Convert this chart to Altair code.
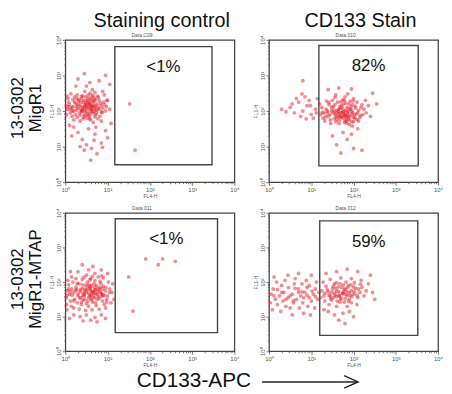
import json
import math
import altair as alt
import pandas as pd

# ---------------- data (log10 units) ----------------
col_titles = ["Staining control", "CD133 Stain"]
row_labels = [["13-0302", "MigR1"], ["13-0302", "MigR1-MTAP"]]
sample_ids = ["Data.C09", "Data.010", "Data.011", "Data.012"]
percents = ["<1%", "82%", "<1%", "59%"]
gate_x1 = [1.17, 1.18, 1.18, 1.20]
gate_x2 = [3.47, 3.53, 3.60, 3.52]
gate_y1 = [0.49, 0.46, 0.54, 0.46]
gate_y2 = [3.81, 3.84, 3.83, 3.77]
axis_title_x = "FL4-H"
axis_title_y = "FL1-H"
decades = [0, 1, 2, 3, 4]
decade_labels = ["10⁰", "10¹", "10²", "10³", "10⁴"]
bottom_label = ["CD133-APC"]

tl_points = [
    (0.55,2.10),(0.62,2.05),(0.48,2.18),(0.70,2.12),(0.40,2.02),(0.58,2.25),(0.66,1.95),(0.35,2.15),(0.75,2.20),(0.52,1.92),
    (0.44,2.30),(0.60,2.35),(0.80,2.05),(0.30,2.08),(0.68,2.28),(0.50,2.00),(0.57,1.85),(0.85,2.15),(0.25,2.20),(0.45,1.88),
    (0.72,1.90),(0.63,2.40),(0.38,2.35),(0.20,2.00),(0.90,2.25),(0.54,2.45),(0.78,2.38),(0.33,1.95),(0.47,2.12),(0.65,2.18),
    (0.15,2.10),(0.10,2.18),(0.05,2.05),(0.08,2.25),(0.12,1.95),(0.18,2.32),(0.28,1.82),(0.42,1.78),(0.60,1.75),(0.82,1.85),
    (0.95,2.00),(1.00,2.30),(0.92,2.45),(0.70,2.52),(0.46,2.55),(0.28,2.45),(0.22,2.40),(0.36,2.25),(0.53,2.30),(0.74,2.02),
    (0.58,2.00),(0.61,2.14),(0.49,2.22),(0.43,2.08),(0.67,2.08),(0.56,2.18),(0.39,1.98),(0.71,2.32),(0.87,1.95),(0.31,2.28),
    (0.03,1.90),(0.06,2.35),(0.02,2.15),(0.16,1.85),(0.24,1.90),(0.77,1.78),(0.97,2.12),(1.05,2.05),(0.88,2.55),(0.64,2.60),
    (0.51,1.80),(0.35,1.72),(0.20,1.75),(0.66,1.68),(0.85,1.72),(0.41,2.42),(0.59,2.50),(0.13,2.48),(0.04,2.42),(0.27,2.12),
    (0.55,1.50),(0.70,1.35),(0.40,1.20),(0.85,1.10),(0.62,0.95),(0.30,1.40),(0.95,1.45),(0.50,1.05),(0.75,0.80),(0.60,0.62),
    (0.20,1.55),(1.00,1.25),(0.45,0.90),(0.88,0.98),(0.35,1.00),(0.68,1.18),(0.15,1.30),(0.58,2.80),(0.80,2.85),(0.30,2.90),
    (1.05,2.75),(0.45,3.05),(0.95,3.00),(0.25,2.70),(1.08,1.65),(0.10,1.60),(0.72,1.55),(1.52,2.20),(1.65,0.90),(0.50,2.70),
]
tl_core = [
    (0.52,2.08),(0.60,2.12),(0.45,2.05),(0.68,2.00),(0.55,2.22),(0.40,2.12),(0.72,2.16),(0.63,1.98),(0.50,2.28),(0.36,2.05),
    (0.78,2.10),(0.58,1.92),(0.47,1.96),(0.66,2.26),(0.30,2.18),(0.83,2.22),(0.54,2.36),(0.42,2.25),(0.74,1.95),(0.62,2.30),
    (0.26,2.02),(0.88,2.08),(0.35,1.88),(0.70,1.84),(0.48,2.40),(0.57,1.78),(0.80,2.30),(0.22,2.25),(0.93,2.18),(0.38,2.42),
    (0.65,2.44),(0.18,2.12),(0.53,1.88),(0.76,2.42),(0.44,1.84),(0.12,2.05),(0.98,2.30),(0.32,2.32),(0.86,1.98),(0.61,2.05),
    (0.07,2.12),(0.16,2.00),(0.27,2.35),(0.69,2.36),(0.50,2.14),(0.58,2.20),(0.46,2.18),(0.73,2.06),(0.64,2.14),(0.39,2.00),
]

tr_points = [
    (1.80,1.90),(1.70,1.95),(1.88,1.85),(1.65,2.05),(1.95,2.00),(1.75,1.80),(1.55,1.92),(2.02,1.88),(1.85,2.10),(1.60,1.78),
    (1.72,2.15),(1.90,1.75),(1.48,2.00),(2.10,1.95),(1.78,2.00),(1.68,1.88),(1.98,2.18),(1.52,2.12),(1.83,1.72),(2.05,2.08),
    (1.40,1.85),(1.62,2.25),(1.92,2.28),(2.15,1.82),(1.35,2.05),(1.58,1.70),(1.75,2.32),(2.00,1.70),(1.45,1.75),(2.18,2.10),
    (1.30,1.95),(1.87,1.98),(1.73,1.85),(1.64,1.98),(1.96,1.92),(1.82,2.22),(1.50,2.30),(2.08,2.25),(1.42,2.18),(2.22,1.90),
    (1.25,2.10),(1.28,1.80),(1.36,2.28),(1.56,2.38),(1.80,2.40),(2.00,2.35),(2.25,2.05),(2.30,1.95),(2.12,1.72),(1.66,1.65),
    (1.90,1.62),(1.46,1.65),(1.22,1.90),(1.77,1.93),(1.84,1.82),(1.69,2.08),(1.93,2.05),(1.61,1.84),(2.03,1.80),(1.54,2.02),
    (1.79,1.68),(1.38,1.95),(1.97,1.58),(2.35,2.15),(2.40,1.85),(2.28,2.30),(1.20,2.20),(1.32,1.72),(1.86,2.48),(1.58,2.45),
    (1.10,2.05),(1.00,1.90),(0.90,2.15),(0.80,2.00),(0.70,2.25),(0.95,2.30),(0.60,1.95),(1.05,1.80),(0.85,2.40),(0.50,2.10),
    (0.75,1.85),(0.40,1.98),(1.15,2.35),(0.65,2.35),(0.30,2.05),(0.88,1.78),(1.12,1.95),(0.55,2.20),(0.98,2.15),(0.78,2.48),
    (1.75,1.40),(1.85,1.20),(1.60,1.05),(2.00,0.95),(1.70,0.82),(1.95,1.35),(1.50,1.30),(2.10,1.50),(1.65,2.65),(1.95,2.62),
    (2.45,2.50),(1.40,2.60),(2.55,2.20),(0.80,2.85),(2.20,0.90),
]
tr_core = [
    (1.78,1.88),(1.86,1.95),(1.70,1.82),(1.92,1.86),(1.64,1.92),(1.82,2.02),(1.74,2.08),(1.98,1.96),(1.58,1.86),(1.88,1.78),
    (2.06,1.92),(1.68,2.12),(1.80,1.74),(1.52,1.96),(1.94,2.12),(1.62,2.02),(2.12,2.02),(1.44,1.90),(1.76,2.20),(2.00,1.82),
    (1.56,2.18),(1.90,2.20),(1.38,2.00),(2.16,1.88),(1.84,1.66),(1.66,1.74),(1.48,2.10),(2.04,2.14),(1.72,1.96),(1.96,1.70),
    (1.60,1.96),(1.85,1.90),(1.34,1.84),(1.78,2.30),(1.42,2.24),(2.08,1.76),(1.54,1.78),(2.20,2.18),(1.70,2.26),(1.99,2.28),
    (1.26,1.96),(1.81,1.84),(1.67,1.84),(1.89,2.06),(1.75,1.98),
]

bl_points = [
    (0.66,1.73),(0.58,1.80),(0.72,1.65),(0.50,1.70),(0.80,1.78),(0.62,1.90),(0.45,1.60),(0.70,1.85),(0.55,1.55),(0.85,1.68),
    (0.40,1.82),(0.75,1.50),(0.60,1.62),(0.90,1.88),(0.35,1.72),(0.68,1.95),(0.48,1.90),(0.78,1.58),(0.30,1.60),(0.95,1.75),
    (0.25,1.85),(0.52,2.00),(0.82,2.02),(0.42,1.48),(0.65,1.42),(0.88,1.45),(0.20,1.70),(0.15,1.80),(0.10,1.65),(0.05,1.75),
    (0.02,1.55),(0.08,1.92),(0.12,1.45),(0.18,2.00),(0.28,1.40),(0.38,1.35),(0.55,1.30),(0.73,1.32),(0.92,1.35),(1.00,1.60),
    (1.05,1.80),(1.02,2.00),(0.98,1.50),(0.60,2.10),(0.40,2.08),(0.78,2.15),(0.25,2.10),(0.90,2.12),(0.50,2.20),(0.70,2.25),
    (0.32,1.95),(0.46,1.78),(0.64,1.68),(0.57,1.88),(0.76,1.72),(0.83,1.85),(0.37,1.55),(0.53,1.45),(0.69,1.55),(0.86,1.58),
    (0.03,1.35),(0.06,2.05),(0.14,1.30),(0.22,1.50),(0.15,2.15),(0.04,1.20),(0.20,1.25),(0.33,1.22),(0.48,1.18),(0.63,1.20),
    (0.80,1.22),(0.95,1.25),(1.08,1.40),(1.10,1.70),(0.44,1.65),(0.59,1.75),(0.71,1.78),(0.27,1.78),(0.89,1.62),(0.61,1.52),
    (0.50,1.05),(0.70,0.98),(0.35,1.00),(0.85,1.05),(0.60,0.90),(0.20,1.05),(0.95,0.95),(0.42,0.88),(0.75,0.85),(0.10,0.95),
    (0.55,2.35),(0.30,2.30),(0.85,2.35),(0.65,2.45),(0.12,2.30),(1.00,2.25),(0.40,2.50),(1.12,1.95),(1.15,1.50),(1.50,2.15),
    (1.90,2.67),(2.30,2.67),(2.60,2.60),(2.20,2.50),(1.60,1.16),
]
bl_core = [
    (0.64,1.72),(0.70,1.78),(0.56,1.66),(0.76,1.64),(0.60,1.84),(0.50,1.76),(0.82,1.72),(0.66,1.58),(0.44,1.70),(0.74,1.90),
    (0.54,1.92),(0.88,1.80),(0.36,1.78),(0.62,1.48),(0.80,1.52),(0.46,1.50),(0.92,1.62),(0.30,1.66),(0.70,2.04),(0.40,1.92),
    (0.84,1.96),(0.24,1.76),(0.58,2.06),(0.96,1.84),(0.34,1.54),(0.16,1.62),(0.72,1.40),(0.50,1.38),(0.98,1.42),(0.08,1.80),
    (0.28,1.96),(0.44,2.14),(0.86,2.18),(0.20,1.46),(0.12,1.72),(1.04,1.70),(0.64,2.16),(0.38,1.42),(0.78,1.82),(0.58,1.60),
    (0.68,1.68),(0.52,1.82),(0.86,1.66),(0.04,1.62),(0.42,1.62),
]

br_points = [
    (1.75,1.66),(1.65,1.72),(1.85,1.60),(1.55,1.68),(1.95,1.75),(1.70,1.55),(1.80,1.80),(1.60,1.58),(1.90,1.50),(2.00,1.65),
    (1.50,1.80),(1.72,1.85),(1.88,1.90),(1.45,1.60),(2.05,1.82),(1.62,1.45),(1.78,1.42),(1.95,1.40),(1.40,1.72),(2.10,1.55),
    (1.35,1.88),(1.55,1.95),(1.82,2.00),(2.02,1.98),(1.30,1.60),(1.48,1.48),(1.68,1.95),(2.15,1.70),(1.25,1.75),(1.92,1.62),
    (1.58,1.82),(1.76,1.70),(1.66,1.62),(1.84,1.72),(1.52,1.55),(2.20,1.85),(2.25,1.60),(1.42,1.35),(1.60,1.30),(1.85,1.30),
    (2.08,1.35),(1.32,1.45),(1.28,2.00),(1.45,2.08),(1.70,2.12),(1.95,2.10),(2.18,2.05),(2.30,1.75),(2.35,1.95),(1.22,1.55),
    (1.75,1.10),(1.55,1.05),(1.90,1.15),(1.65,0.90),(2.00,1.00),(1.80,0.80),(1.40,1.15),(2.45,1.70),(2.40,2.20),(2.10,2.30),
    (1.60,2.30),(1.85,2.37),(1.35,2.25),(2.50,1.50),(1.30,1.20),
    (1.05,1.65),(0.95,1.55),(0.85,1.70),(1.10,1.80),(0.75,1.60),(0.65,1.50),(0.90,1.85),(1.00,1.45),(0.55,1.65),(0.45,1.55),
    (0.80,1.40),(1.15,1.50),(0.70,1.80),(0.60,1.95),(0.35,1.70),(0.25,1.60),(0.15,1.50),(0.05,1.65),(0.10,1.80),(0.20,1.35),
    (0.30,1.90),(0.40,1.30),(0.50,1.25),(0.72,1.25),(0.92,1.30),(1.08,1.25),(0.88,2.05),(1.12,2.00),(0.62,2.10),(0.38,2.05),
    (0.18,2.00),(0.03,1.40),(0.08,1.20),(0.28,1.15),(0.55,1.05),(0.82,1.10),(1.00,2.20),(0.70,2.25),(0.45,2.20),(0.98,1.05),
    (1.18,1.70),(0.12,2.15),(0.33,1.45),(0.58,1.40),(0.78,1.95),
]
br_core = [
    (1.74,1.68),(1.82,1.64),(1.66,1.60),(1.90,1.70),(1.60,1.74),(1.78,1.78),(1.70,1.50),(1.96,1.58),(1.56,1.62),(1.86,1.84),
    (2.02,1.72),(1.64,1.86),(1.48,1.70),(1.80,1.52),(2.08,1.62),(1.52,1.88),(1.94,1.92),(1.42,1.62),(1.68,1.42),(2.12,1.80),
    (1.38,1.78),(1.88,1.44),(1.60,1.98),(2.00,1.86),(1.32,1.68),(1.76,1.92),(1.46,1.52),(2.16,1.94),
    (0.90,1.62),(0.70,1.70),(0.50,1.60),(1.02,1.74),(0.30,1.70),(0.82,1.55),(0.62,1.82),(0.40,1.50),(1.10,1.58),(0.20,1.78),
    (0.78,1.72),(0.96,1.90),(0.58,1.46),(0.12,1.60),(0.46,1.84),
]

panel_points = [tl_points + tl_core, tr_points + tr_core,
                bl_points + bl_core, br_points + br_core]

# ---------------- styling ----------------
FONT = "Liberation Sans"
RED = "#e41d27"
FRAME = "#454545"
TXT = "#111111"
GREY = "#555555"

minor_ticks = [d + math.log10(k) for d in decades[:-1] for k in range(2, 10)]
tick_values = decades + minor_ticks
label_expr = ("datum.value % 1 == 0 ? " + json.dumps(decade_labels, ensure_ascii=False)
              + "[datum.value] : ''")

widths = [171, 171]
heights = [144, 140]
title_dx = [12, 7]


def make_axis(title, vertical):
    kw = dict(
        values=tick_values, labelExpr=label_expr, title=title,
        labelFont=FONT, labelFontSize=6, labelColor=GREY, labelPadding=1,
        titleFont=FONT, titleFontSize=5, titleFontWeight="normal", titleColor=GREY,
        titlePadding=1, domain=False, grid=False, tickColor=GREY, tickWidth=0.8,
        tickSize={"condition": {"test": "datum.value % 1 == 0", "value": 3}, "value": 1.5},
        labelOverlap=False, labelFlush=False,
    )
    if vertical:
        kw.update(labelAngle=270, labelAlign="center", labelBaseline="bottom")
    return alt.Axis(**kw)


def panel(i):
    r, c = divmod(i, 2)
    w, h = widths[c], heights[r]
    xs = alt.Scale(domain=[0, 4], nice=False, zero=False)
    ys = alt.Scale(domain=[0, 4], nice=False, zero=False)
    xax = make_axis(axis_title_x, False)
    yax = make_axis(axis_title_y, True)

    df = pd.DataFrame(panel_points[i], columns=["fl4", "fl1"])
    dots = alt.Chart(df).mark_circle(size=15, color=RED, opacity=0.5).encode(
        x=alt.X("fl4:Q", scale=xs, axis=xax),
        y=alt.Y("fl1:Q", scale=ys, axis=yax),
    )
    gdf = pd.DataFrame({"fl4": [gate_x1[i]], "x2": [gate_x2[i]],
                        "fl1": [gate_y1[i]], "y2": [gate_y2[i]], "pct": [percents[i]]})
    gate = alt.Chart(gdf).mark_rect(fillOpacity=0, stroke=FRAME, strokeWidth=1.4).encode(
        x=alt.X("fl4:Q", scale=xs, axis=xax), x2="x2:Q",
        y=alt.Y("fl1:Q", scale=ys, axis=yax), y2="y2:Q",
    )
    pct = alt.Chart(gdf).transform_calculate(
        xm="(datum.fl4 + datum.x2) / 2"
    ).mark_text(font=FONT, fontSize=17, color=TXT, baseline="middle", dy=21).encode(
        x=alt.X("xm:Q", scale=xs, axis=xax),
        y=alt.Y("y2:Q", scale=ys, axis=yax),
        text="pct:N",
    )
    sid = alt.Chart(pd.DataFrame({"t": [sample_ids[i]]})).mark_text(
        font=FONT, fontSize=5, color=GREY, baseline="bottom", align="center"
    ).encode(x=alt.value(w / 2 - 8), y=alt.value(-2), text="t:N")
    layers = [dots, gate, pct, sid]

    if r == 0:
        layers.append(
            alt.Chart(pd.DataFrame({"t": [col_titles[c]]})).mark_text(
                font=FONT, fontSize=20, color=TXT, baseline="top", align="center"
            ).encode(x=alt.value(w / 2 + title_dx[c]), y=alt.value(-29), text="t:N")
        )
    if c == 0:
        for k, lab in enumerate(row_labels[r]):
            ldf = pd.DataFrame({"t": [lab]})
            layers.append(
                alt.Chart(ldf).mark_text(font=FONT, fontSize=17, color=TXT, angle=270,
                                         baseline="middle", align="center").encode(
                    x=alt.value(-48 + 18 * k), y=alt.value(h / 2 - 3), text="t:N")
            )
    if r == 1 and c == 0:
        bdf = pd.DataFrame({"t": bottom_label})
        layers.append(
            alt.Chart(bdf).mark_text(font=FONT, fontSize=21, color=TXT, baseline="middle",
                                     align="center").encode(
                x=alt.value(130), y=alt.value(h + 30), text="t:N")
        )
        layers.append(
            alt.Chart(bdf).mark_rule(color="#222", strokeWidth=1.5).encode(
                x=alt.value(199), x2=alt.value(296), y=alt.value(h + 31))
        )
        layers.append(
            alt.Chart(bdf).mark_point(shape="M-2,-0.9L0,0L-2,0.9", filled=False, size=196,
                                      color="#222", strokeWidth=1.5, opacity=1).encode(
                x=alt.value(296), y=alt.value(h + 31))
        )

    return alt.layer(*layers).properties(width=w, height=h)


chart = alt.concat(
    *[panel(i) for i in range(4)], columns=2, bounds="flush", align="each",
    spacing={"row": 31, "column": 35},
).properties(
    padding=0, background="white"
).configure_view(stroke=FRAME, strokeWidth=1.3)

chart.save("out.html", embed_options={"renderer": "svg", "actions": False})
